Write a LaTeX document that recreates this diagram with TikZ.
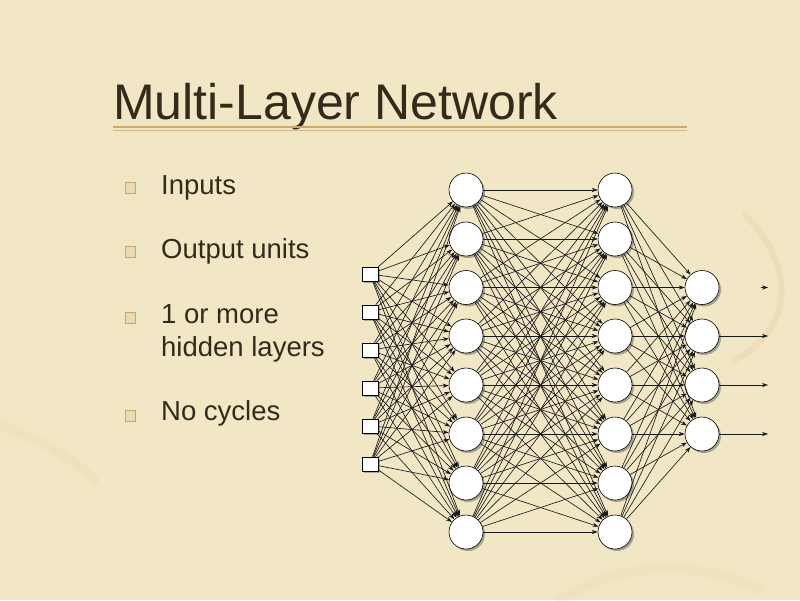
\documentclass[tikz,border=0pt]{standalone}
\usepackage{fontspec}
\setmainfont{Liberation Sans}
\usetikzlibrary{shadows,arrows.meta}
\definecolor{paper}{RGB}{242,231,197}
\definecolor{stain}{RGB}{200,165,100}
\definecolor{ink}{RGB}{52,42,28}
\definecolor{rulecol}{RGB}{200,170,112}
\definecolor{bulletfill}{RGB}{236,219,176}
\definecolor{bulletline}{RGB}{196,168,115}
\tikzset{
  neuron/.style={circle,draw=black,line width=0.6pt,fill=white,minimum size=34pt,inner sep=0pt,
    drop shadow={shadow xshift=2pt,shadow yshift=-2pt,opacity=0.45,fill=black!70}},
  inbox/.style={rectangle,draw=black,line width=0.6pt,fill=white,minimum width=16pt,minimum height=14pt,inner sep=0pt,
    drop shadow={shadow xshift=1.5pt,shadow yshift=-1.5pt,opacity=0.4,fill=black!70}},
  conn/.style={-{Stealth[length=6pt,width=4.2pt]},line width=0.65pt,black!90},
  bul/.style={rectangle,draw=bulletline,fill=bulletfill,line width=0.7pt,minimum width=10.5pt,minimum height=10.5pt,inner sep=0pt},
  btext/.style={anchor=base west,inner sep=0pt,text=ink,font=\fontsize{27.5}{33}\selectfont},
  titletext/.style={anchor=base west,inner sep=0pt,text=ink,font=\fontsize{50}{60}\selectfont},
}
\begin{document}
\begin{tikzpicture}[x=1pt,y=-1pt]
\useasboundingbox (0,0) rectangle (800,600);
\fill[paper] (0,0) rectangle (800,600);
% faint parchment stains
\draw[stain,opacity=0.12,line width=6pt,line cap=round] (745,215) .. controls (800,270) and (790,330) .. (735,360);
\draw[stain,opacity=0.08,line width=9pt,line cap=round] (0,425) .. controls (40,440) and (70,455) .. (95,480);
\draw[stain,opacity=0.07,line width=10pt,line cap=round] (560,600) .. controls (620,560) and (700,560) .. (760,590);

% title
\node[titletext] (title) at (113,119) {Multi-Layer Network};
\coordinate (rl1) at (113,127);
\coordinate (rr1) at (687,127);
\coordinate (rl2) at (113,130.5);
\coordinate (rr2) at (687,130.5);
\draw[rulecol,line width=1.4pt] (rl1) -- (rr1);
\draw[rulecol!85,line width=1pt] (rl2) -- (rr2);

% bullets
\node[bul] (b1) at (130.5,188) {};
\node[bul] (b2) at (130.5,252) {};
\node[bul] (b3) at (130.5,318) {};
\node[bul] (b4) at (130.5,416) {};
\node[btext] (t1) at (161,194) {Inputs};
\node[btext] (t2) at (161,258) {Output units};
\node[btext] (t3) at (161,323) {1 or more};
\node[btext] (t3b) at (161,356) {hidden layers};
\node[btext] (t4) at (161,420) {No cycles};

% input layer
\foreach \k/\y in {1/274,2/312,3/350,4/388,5/426,6/464}
  \node[inbox] (i\k) at (370,\y) {};
% hidden layers
\foreach \k/\y in {1/190,2/239,3/287.5,4/336,5/385,6/434,7/483,8/532}{
  \node[neuron] (a\k) at (466,\y) {};
  \node[neuron] (h\k) at (615,\y) {};
}
% output layer
\foreach \k/\y in {1/287.5,2/336,3/385,4/434}
  \node[neuron] (o\k) at (702,\y) {};

% connections
\foreach \p in {1,...,6}
  \foreach \q in {1,...,8}
    \draw[conn] (i\p) -- (a\q);
\foreach \p in {1,...,8}
  \foreach \q in {1,...,8}
    \draw[conn] (a\p) -- (h\q);
\foreach \p in {1,...,8}
  \foreach \q in {1,...,4}
    \draw[conn] (h\p) -- (o\q);

% outputs
\coordinate (e1s) at (761,287.5);
\coordinate (e1) at (768,287.5);
\coordinate (e2) at (768,336);
\coordinate (e3) at (768,385);
\coordinate (e4) at (768,434);
\draw[conn] (e1s) -- (e1);
\draw[conn] (o2) -- (e2);
\draw[conn] (o3) -- (e3);
\draw[conn] (o4) -- (e4);
\end{tikzpicture}
\end{document}
